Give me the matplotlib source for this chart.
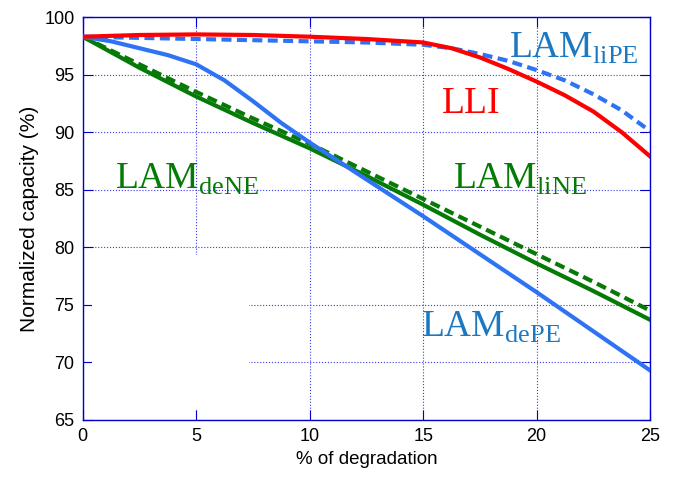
import numpy as np
import matplotlib.pyplot as plt
from matplotlib.patches import Rectangle

plt.rcParams['mathtext.fontset'] = 'custom'
plt.rcParams['mathtext.rm'] = 'Liberation Serif'
plt.rcParams['font.family'] = ['Liberation Sans', 'DejaVu Sans']

# data
x = [0, 2.5, 5, 7.5, 10, 12.5, 15, 17.5, 20, 22.5, 25]
x_fine = [0, 2.5, 5, 7.5, 10, 12.5, 15, 16.25, 17.5, 18.75, 20, 21.25, 22.5, 23.75, 25]
lli = [98.3, 98.45, 98.5, 98.45, 98.3, 98.1, 97.8, 97.3, 96.5, 95.5, 94.4, 93.2, 91.8, 90.0, 87.9]
lam_lipe = [98.3, 98.2, 98.1, 98.0, 97.9, 97.8, 97.6, 97.3, 96.8, 96.2, 95.4, 94.5, 93.3, 91.9, 90.1]
lam_depe_x = [0, 1.25, 2.5, 3.75, 5, 6.25, 7.5, 8.75, 10, 12.5, 15, 17.5, 20, 22.5, 25]
lam_depe = [98.3, 97.9, 97.3, 96.7, 95.9, 94.5, 92.7, 90.8, 89.1, 85.9, 82.7, 79.4, 76.1, 72.7, 69.3]
lam_dene = [98.3, 95.6, 93.1, 90.8, 88.6, 86.2, 83.7, 81.1, 78.6, 76.2, 73.7]
lam_line = [98.3, 95.9, 93.5, 91.2, 89.0, 86.6, 84.2, 81.8, 79.4, 77.0, 74.5]

red = '#ff0000'
blue = '#2f73f5'
green = '#067a06'
txt_blue = '#1c78c0'
axis_blue = '#0000c8'

fig, ax = plt.subplots(figsize=(6.73, 4.9), dpi=100)
fig.subplots_adjust(left=0.123, right=0.966, bottom=0.143, top=0.965)

ax.grid(True, color='#3a3af0', linestyle=':', linewidth=0.8)
ax.set_axisbelow(True)
# blank area that hides part of the grid
ax.add_patch(Rectangle((0.42, 65.9), 6.9, 13.4, facecolor='white', edgecolor='none', zorder=0.8))

ax.plot(x, lam_dene, color=green, lw=3, zorder=3)
ax.plot(x, lam_line, color=green, lw=3, dashes=(2.4, 1.3), zorder=3)
ax.plot(lam_depe_x, lam_depe, color=blue, lw=3, zorder=3)
ax.plot(x_fine, lam_lipe, color=blue, lw=3, dashes=(2.4, 1.3), zorder=3)
ax.plot(x_fine, lli, color=red, lw=3, zorder=3)

ax.text(18.8, 96.5, r'$\mathrm{LAM}_{\mathrm{liPE}}$', color=txt_blue, fontsize=27, va='baseline')
ax.text(15.8, 91.7, r'$\mathrm{LLI}$', color=red, fontsize=27, va='baseline')
ax.text(16.3, 85.1, r'$\mathrm{LAM}_{\mathrm{liNE}}$', color=green, fontsize=27, va='baseline')
ax.text(1.4, 85.1, r'$\mathrm{LAM}_{\mathrm{deNE}}$', color=green, fontsize=27, va='baseline')
ax.text(14.9, 72.2, r'$\mathrm{LAM}_{\mathrm{dePE}}$', color=txt_blue, fontsize=27, va='baseline')

ax.set_xlim(0, 25)
ax.set_ylim(65, 100)
ax.set_xticks([0, 5, 10, 15, 20, 25])
ax.set_yticks([65, 70, 75, 80, 85, 90, 95, 100])
ax.tick_params(direction='in', length=7, width=0.8, color=axis_blue, labelsize=13,
               top=True, right=True, pad=6)
for s in ax.spines.values():
    s.set_color(axis_blue)
    s.set_linewidth(1.0)

ax.set_xlabel('% of degradation', fontsize=13.5)
ax.set_ylabel('Normalized capacity (%)', fontsize=15)

fig.savefig('out.png', dpi=100)
